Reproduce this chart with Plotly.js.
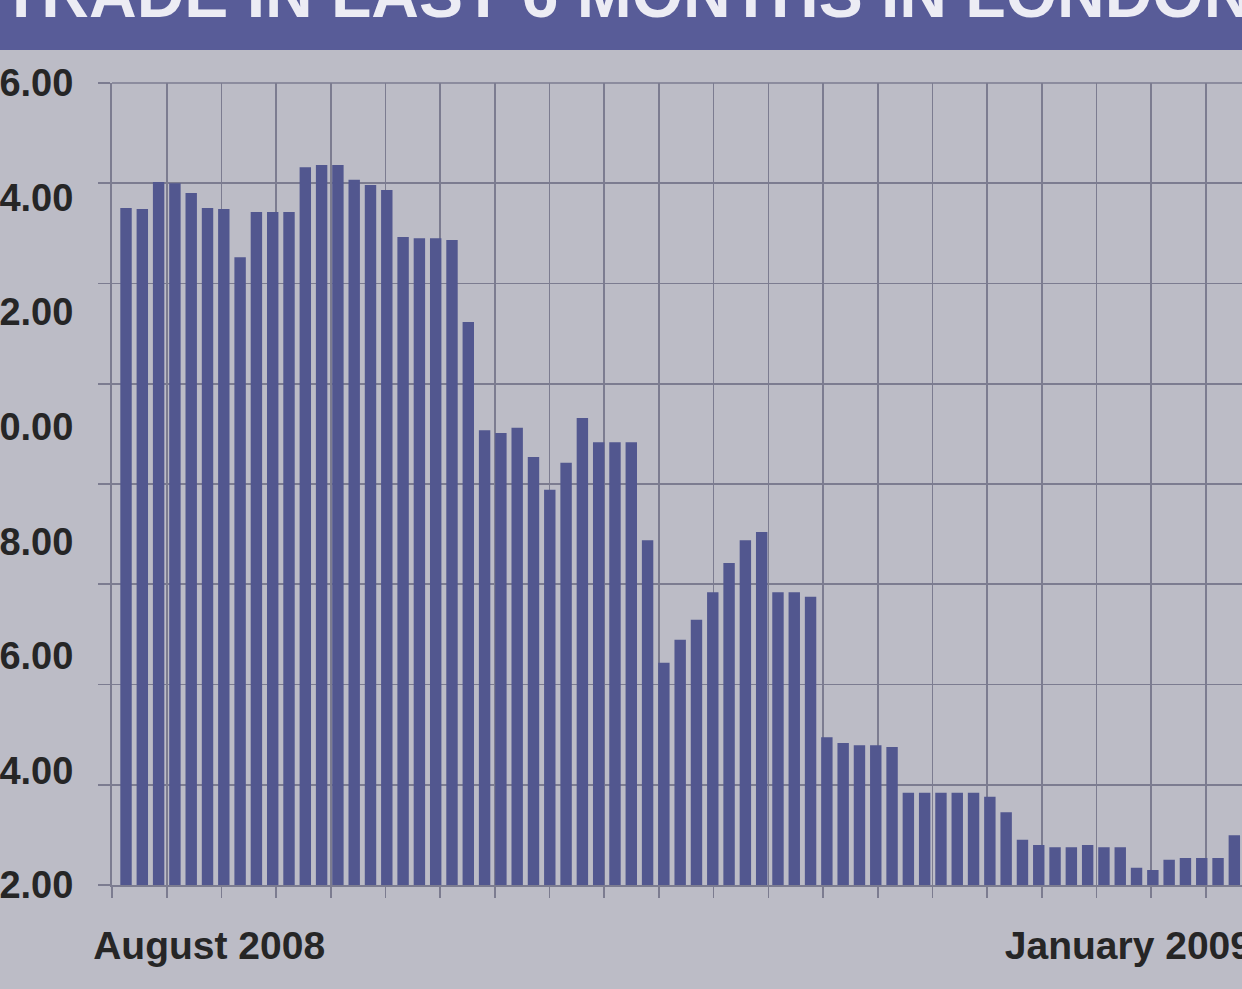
<!DOCTYPE html>
<html>
<head>
<meta charset="utf-8">
<script src="https://cdn.plot.ly/plotly-3.0.1.min.js"></script>
<style>
  html, body { margin: 0; padding: 0; background: #bcbcc6; }
  #chart { width: 1242px; height: 989px; }
</style>
</head>
<body>
<div id="chart"></div>
<script>
// Chart title (cropped at the top of the photo)
const chartTitle = 'TRADE IN LAST 6 MONTHS IN LONDON';

// Period labels on the x axis
const periodLabels = ['August 2008', 'January 2009'];

// Y axis tick values
const yTickValues = [2, 4, 6, 8, 10, 12, 14, 16];

// Bar values (left to right)
const values = [
  13.82, 13.80, 14.27, 14.25, 14.08, 13.82, 13.80, 12.96, 13.75, 13.75,
  13.75, 14.53, 14.57, 14.57, 14.31, 14.22, 14.13, 13.31, 13.29, 13.29,
  13.26, 11.83, 9.94, 9.89, 9.98, 9.47, 8.90, 9.37, 10.15, 9.73,
  9.73, 9.73, 8.02, 5.88, 6.28, 6.63, 7.11, 7.62, 8.02, 8.16,
  7.11, 7.11, 7.03, 4.58, 4.48, 4.44, 4.44, 4.41, 3.61, 3.61,
  3.61, 3.61, 3.61, 3.54, 3.27, 2.79, 2.70, 2.66, 2.66, 2.70,
  2.66, 2.66, 2.30, 2.26, 2.44, 2.47, 2.47, 2.47, 2.87
];

const xIndex = values.map((_, i) => i);

const gridColor = '#7c7c90';
const textColor = '#262626';
const xLabelFont = { family: 'Liberation Sans, Arial, sans-serif', size: 39, color: textColor, weight: 'bold' };
const yLabelFont = { family: 'Liberation Sans, Arial, sans-serif', size: 38, color: textColor, weight: 'bold' };

const trace = {
  type: 'bar',
  x: xIndex,
  y: values,
  width: 0.7,
  marker: { color: '#52578f', line: { width: 0 } },
  hoverinfo: 'y'
};

const layout = {
  width: 1242,
  height: 989,
  margin: { l: 112, r: 0, t: 83, b: 104, pad: 0 },
  paper_bgcolor: '#bcbcc6',
  plot_bgcolor: '#bcbcc6',
  showlegend: false,
  xaxis: {
    range: [-0.86, 68.47],
    showgrid: false,
    zeroline: false,
    showline: true,
    linecolor: gridColor,
    linewidth: 2,
    tickmode: 'array',
    tickvals: [5.1, 61.5],
    ticktext: periodLabels,
    ticks: '',
    ticklabelstandoff: 25,
    ticklabeloverflow: 'allow',
    tickfont: xLabelFont,
    minor: {
      tick0: -0.86,
      dtick: 3.356,
      showgrid: true,
      gridcolor: gridColor,
      gridwidth: 1.6,
      ticks: 'outside',
      ticklen: 11,
      tickcolor: gridColor,
      tickwidth: 1.6
    },
    automargin: false,
    fixedrange: true
  },
  yaxis: {
    range: [2, 16],
    showgrid: false,
    zeroline: false,
    showline: true,
    linecolor: gridColor,
    linewidth: 2,
    tickmode: 'array',
    tickvals: yTickValues,
    ticktext: yTickValues.map(v => v.toFixed(2)),
    ticks: '',
    ticklabelstandoff: 29,
    ticklabeloverflow: 'allow',
    tickfont: yLabelFont,
    minor: {
      tick0: 2,
      dtick: 1.75,
      showgrid: true,
      gridcolor: gridColor,
      gridwidth: 1.6,
      ticks: 'outside',
      ticklen: 12,
      tickcolor: gridColor,
      tickwidth: 1.6
    },
    automargin: false,
    fixedrange: true
  },
  shapes: [
    {
      type: 'rect', xref: 'paper', yref: 'paper',
      x0: -0.2, x1: 1.01, y0: (885 - 50) / 802, y1: 1.2,
      fillcolor: '#585c98', line: { width: 0 }, layer: 'below'
    },
    {
      type: 'line', xref: 'paper', yref: 'paper',
      x0: 0, x1: 1, y0: 1, y1: 1,
      line: { color: gridColor, width: 1.6 }
    }
  ],
  annotations: [
    {
      text: chartTitle,
      xref: 'paper', yref: 'paper',
      x: 0.455, y: (885 + 6) / 802,
      xanchor: 'center', yanchor: 'middle',
      showarrow: false,
      font: { family: 'Liberation Sans, Arial, sans-serif', size: 66, color: '#ececf4', weight: 'bold' }
    }
  ]
};

Plotly.newPlot('chart', [trace], layout, { displayModeBar: false, staticPlot: true });
</script>
</body>
</html>
